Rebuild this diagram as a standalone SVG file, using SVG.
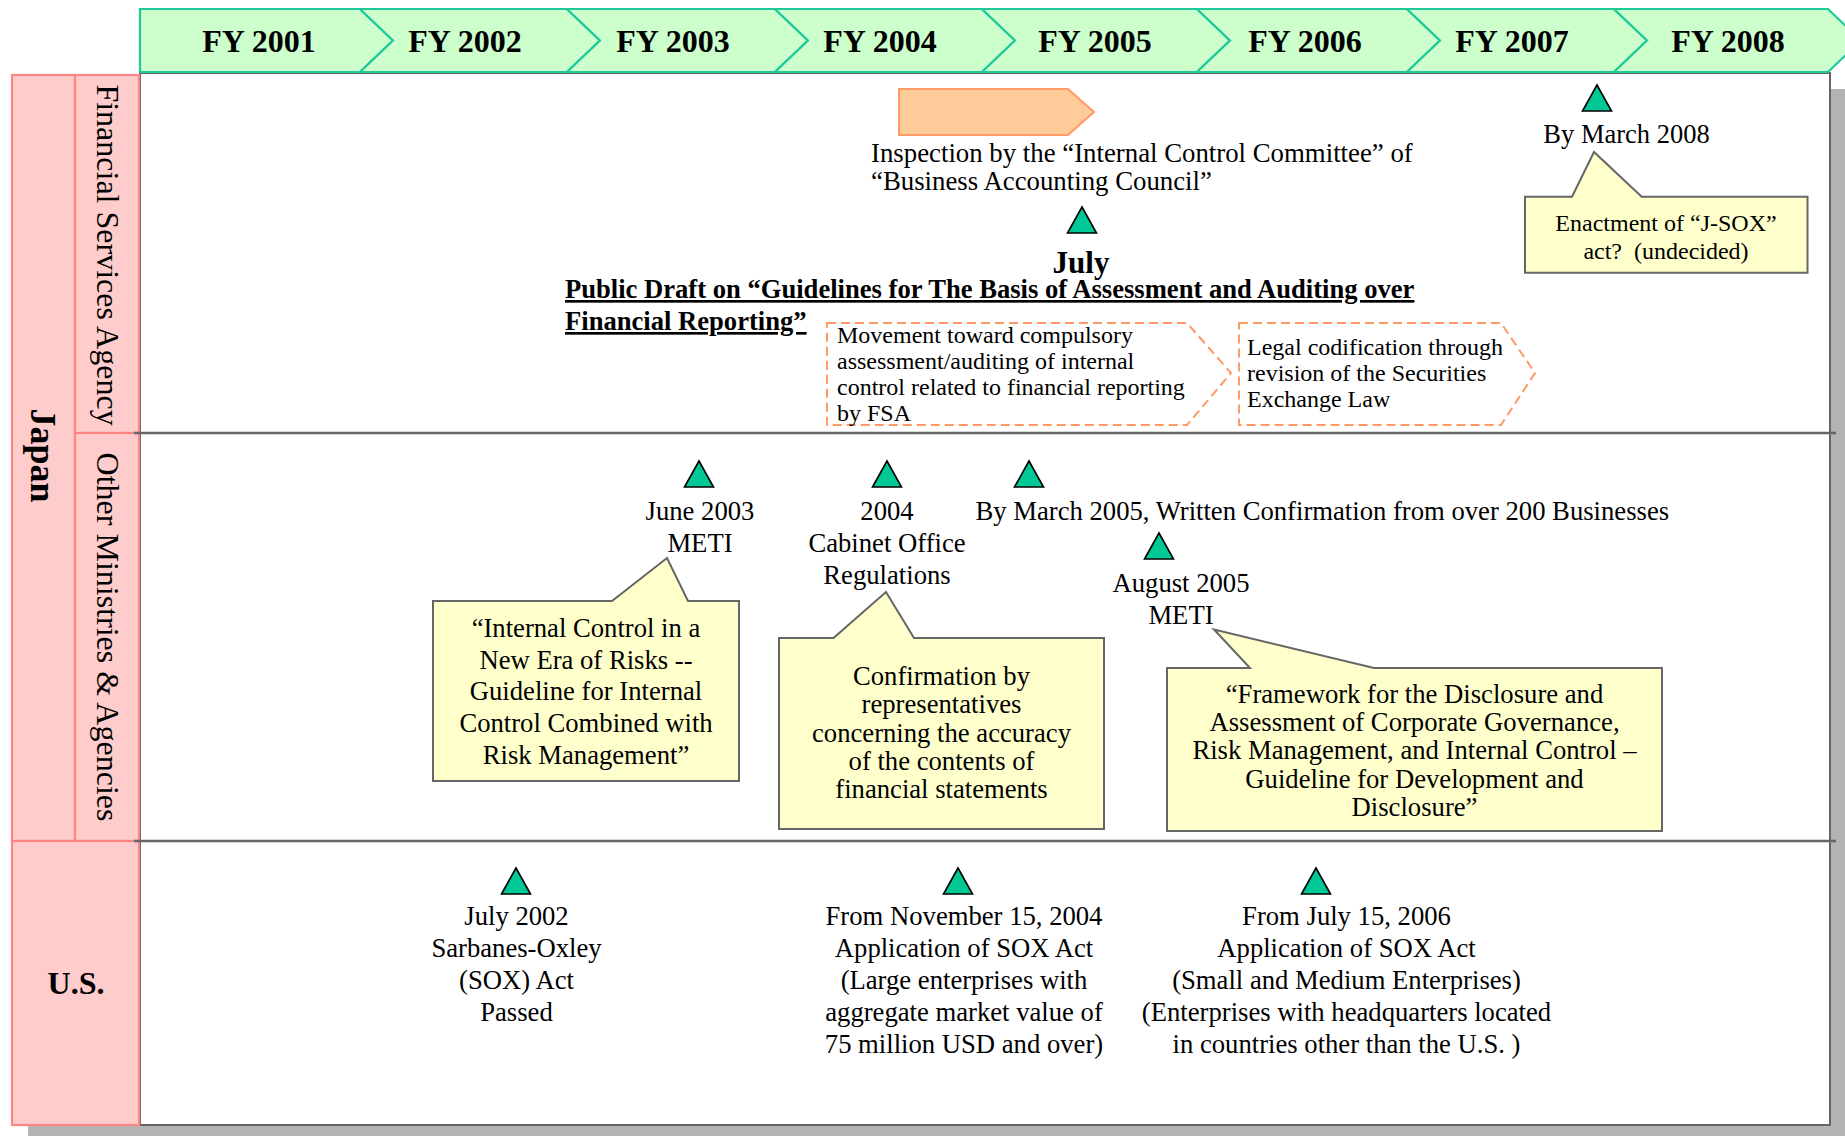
<svg xmlns="http://www.w3.org/2000/svg" xmlns:xlink="http://www.w3.org/1999/xlink" width="1845" height="1136" viewBox="0 0 1845 1136">
<style>
text{font-family:"Liberation Serif","Times New Roman",serif;fill:#000}
.hd{font-size:32px;font-weight:bold;text-anchor:middle}
.t{font-size:26.67px}
.c{text-anchor:middle}
.s{font-size:24px}
.b{font-weight:bold}
.chev{fill:#ccffcc;stroke:#1fc99a;stroke-width:2.2}
.lane{fill:#ffcccc;stroke:#ff8585;stroke-width:2.2}
.call{fill:#ffffcc;stroke:#666;stroke-width:2}
.dash{fill:#fff;stroke:#ff9966;stroke-width:2;stroke-dasharray:9 5}
.sep{stroke:#666;stroke-width:2.5}
</style>
<defs>
<path id="tri" d="M0,0 L14.5,26 L-14.5,26 Z" fill="#00c896" stroke="#000" stroke-width="1.6" stroke-linejoin="miter"/>
</defs>
<rect x="0" y="0" width="1845" height="1136" fill="#fff"/>
<rect x="28" y="89" width="1820" height="1050" fill="#b3b3b3"/>
<rect x="140" y="73" width="1690" height="1052" fill="#fff" stroke="#666" stroke-width="2"/>

<g id="lanes">
<rect id="lane-japan" class="lane" x="12" y="75" width="63" height="766"/>
<rect id="lane-fsa" class="lane" x="75" y="75" width="64" height="358"/>
<rect id="lane-om" class="lane" x="75" y="433" width="64" height="408"/>
<rect id="lane-us" class="lane" x="12" y="841" width="127" height="284"/>
<text class="b" font-size="36" text-anchor="middle" transform="translate(31,455.5) rotate(90)">Japan</text>
<text font-size="32" text-anchor="middle" transform="translate(96.5,255) rotate(90)">Financial Services Agency</text>
<text font-size="32" text-anchor="middle" transform="translate(96.5,637) rotate(90)">Other Ministries &amp; Agencies</text>
<text class="b c" font-size="32" x="76" y="994">U.S.</text>
</g>

<g id="connectors">
<line class="sep" x1="134" y1="433" x2="1836" y2="433"/>
<line class="sep" x1="134" y1="841" x2="1836" y2="841"/>
</g>

<g id="header">
<polygon class="chev" points="140,9 360,9 393,40.5 360,72 140,72"/>
<polygon class="chev" points="360,9 567,9 600,40.5 567,72 360,72 393,40.5"/>
<polygon class="chev" points="567,9 775,9 808,40.5 775,72 567,72 600,40.5"/>
<polygon class="chev" points="775,9 982,9 1015,40.5 982,72 775,72 808,40.5"/>
<polygon class="chev" points="982,9 1197,9 1230,40.5 1197,72 982,72 1015,40.5"/>
<polygon class="chev" points="1197,9 1407,9 1440,40.5 1407,72 1197,72 1230,40.5"/>
<polygon class="chev" points="1407,9 1614,9 1647,40.5 1614,72 1407,72 1440,40.5"/>
<polygon class="chev" points="1614,9 1828,9 1861,40.5 1828,72 1614,72 1647,40.5"/>
<text class="hd" x="259" y="52">FY 2001</text>
<text class="hd" x="465" y="52">FY 2002</text>
<text class="hd" x="673" y="52">FY 2003</text>
<text class="hd" x="880" y="52">FY 2004</text>
<text class="hd" x="1095" y="52">FY 2005</text>
<text class="hd" x="1305" y="52">FY 2006</text>
<text class="hd" x="1512" y="52">FY 2007</text>
<text class="hd" x="1728" y="52">FY 2008</text>
</g>

<g id="inspection">
<polygon points="899,89 1068,89 1094,112 1068,135 899,135" fill="#ffcc99" stroke="#ff9966" stroke-width="2"/>
<text font-size="26.8" x="871" y="162">Inspection by the “Internal Control Committee” of</text>
<text font-size="26.8" x="871" y="190">“Business Accounting Council”</text>
</g>

<g id="public-draft">
<use xlink:href="#tri" x="1082" y="207"/>
<text class="b c" font-size="31" x="1081" y="273">July</text>
<text class="b" font-size="26.6" x="565" y="298" text-decoration="underline">Public Draft on “Guidelines for The Basis of Assessment and Auditing over</text>
<text class="b" font-size="26.6" x="565" y="330" text-decoration="underline">Financial Reporting”</text>
</g>

<g id="movement">
<polygon class="dash" points="827,323 1187,323 1231,373 1187,425 827,425"/>
<text class="s" x="837" y="343">Movement toward compulsory</text>
<text class="s" x="837" y="369">assessment/auditing of internal</text>
<text class="s" x="837" y="395">control related to financial reporting</text>
<text class="s" x="837" y="421">by FSA</text>
</g>

<g id="legal">
<polygon class="dash" points="1239,323 1501,323 1535,373 1501,425 1239,425"/>
<text class="s" x="1247" y="355">Legal codification through</text>
<text class="s" x="1247" y="381">revision of the Securities</text>
<text class="s" x="1247" y="407">Exchange Law</text>
</g>

<g id="jsox">
<use xlink:href="#tri" x="1597" y="85"/>
<text class="c" font-size="26.5" x="1626.5" y="143">By March 2008</text>
<path class="call" d="M1525,196.7 L1572,196.7 L1594,152 L1641.7,196.7 L1807.5,196.7 L1807.5,272.7 L1525,272.7 Z"/>
<text class="s c" x="1666" y="231">Enactment of “J-SOX”</text>
<text class="s c" x="1666" y="259">act?&#160; (undecided)</text>
</g>

<g id="meti-2003">
<use xlink:href="#tri" x="699" y="461"/>
<text class="t c" x="700" y="520">June 2003</text>
<text class="t c" x="700" y="552">METI</text>
<path class="call" d="M433,601 L612,601 L667,558 L688,601 L739,601 L739,781 L433,781 Z"/>
<text class="t c" x="586" y="637">“Internal Control in a</text>
<text class="t c" x="586" y="668.5">New Era of Risks --</text>
<text class="t c" x="586" y="700">Guideline for Internal</text>
<text class="t c" x="586" y="732">Control Combined with</text>
<text class="t c" x="586" y="763.5">Risk Management”</text>
</g>

<g id="cabinet-2004">
<use xlink:href="#tri" x="887" y="461"/>
<text class="t c" x="887" y="520">2004</text>
<text class="t c" x="887" y="552">Cabinet Office</text>
<text class="t c" x="887" y="584">Regulations</text>
<path class="call" d="M779,638 L833.5,638 L886,592 L914,638 L1104,638 L1104,829 L779,829 Z"/>
<text class="t c" x="941.5" y="685">Confirmation by</text>
<text class="t c" x="941.5" y="713">representatives</text>
<text class="t c" x="941.5" y="741.5">concerning the accuracy</text>
<text class="t c" x="941.5" y="770">of the contents of</text>
<text class="t c" x="941.5" y="798">financial statements</text>
</g>

<g id="march-2005">
<use xlink:href="#tri" x="1029" y="461"/>
<text class="t" x="975.5" y="520">By March 2005, Written Confirmation from over 200 Businesses</text>
</g>

<g id="meti-2005">
<use xlink:href="#tri" x="1159" y="533"/>
<text class="t c" x="1181" y="592">August 2005</text>
<text class="t c" x="1181" y="624">METI</text>
<path class="call" d="M1167,668 L1250,668 L1214,629.5 L1374,668 L1662,668 L1662,831 L1167,831 Z"/>
<text class="t c" x="1414.5" y="702.5">“Framework for the Disclosure and</text>
<text class="t c" x="1414.5" y="731">Assessment of Corporate Governance,</text>
<text class="t c" x="1414.5" y="759">Risk Management, and Internal Control –</text>
<text class="t c" x="1414.5" y="787.5">Guideline for Development and</text>
<text class="t c" x="1414.5" y="816">Disclosure”</text>
</g>

<g id="sox-2002">
<use xlink:href="#tri" x="516" y="868"/>
<text class="t c" x="516.5" y="924.5">July 2002</text>
<text class="t c" x="516.5" y="956.5">Sarbanes-Oxley</text>
<text class="t c" x="516.5" y="988.5">(SOX) Act</text>
<text class="t c" x="516.5" y="1020.5">Passed</text>
</g>

<g id="sox-2004">
<use xlink:href="#tri" x="958" y="868"/>
<text class="t c" x="964" y="924.5">From November 15, 2004</text>
<text class="t c" x="964" y="956.5">Application of SOX Act</text>
<text class="t c" x="964" y="988.5">(Large enterprises with</text>
<text class="t c" x="964" y="1020.5">aggregate market value of</text>
<text class="t c" x="964" y="1052.5">75 million USD and over)</text>
</g>

<g id="sox-2006">
<use xlink:href="#tri" x="1316" y="868"/>
<text class="t c" x="1346.5" y="924.5">From July 15, 2006</text>
<text class="t c" x="1346.5" y="956.5">Application of SOX Act</text>
<text class="t c" x="1346.5" y="988.5">(Small and Medium Enterprises)</text>
<text class="t c" x="1346.5" y="1020.5">(Enterprises with headquarters located</text>
<text class="t c" x="1346.5" y="1052.5">in countries other than the U.S. )</text>
</g>
</svg>
